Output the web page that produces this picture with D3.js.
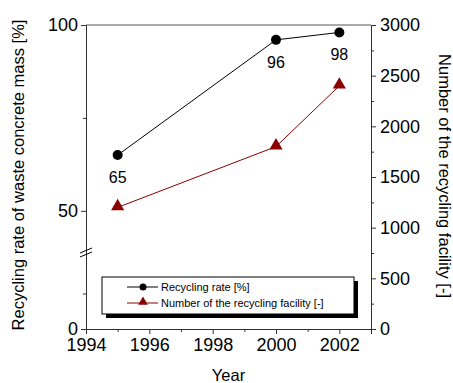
<!DOCTYPE html>
<meta charset="utf-8">
<style>
    body {
        margin: 0;
        font-family: "Liberation Sans", Arial, sans-serif;
        background: #fff;
    }
    .axis path, .axis line {
        stroke: #333;
    }
    .axis text {
        font-size: 18px;
        fill: #000;
        font-family: "Liberation Sans", Arial, sans-serif;
    }
</style>
<script src="https://d3js.org/d3.v7.min.js"></script>
<div id="chart"></div>
<script>

    var years = [1995, 2000, 2002];
    var recyclingRate = [65, 96, 98];
    var facilities = [1200, 1800, 2400];

    var xTicks = [1994, 1996, 1998, 2000, 2002];
    var xMinor = [1995, 1997, 1999, 2001];
    var leftTicks = [0, 50, 100];
    var leftMinor = [10, 75];
    var rightTicks = [0, 500, 1000, 1500, 2000, 2500, 3000];
    var rightMinor = [250, 750, 1250, 1750, 2250, 2750];

    var W = 453, H = 383;
    var plotL = 86, plotR = 371, plotT = 25, plotB = 329;

    var svg = d3.select("#chart")
        .append("svg")
        .attr("width", W)
        .attr("height", H);

    var x = d3.scaleLinear()
        .domain([1994, 2003])
        .range([plotL, plotR]);

    // broken left axis: 0-20 below the break, 40-100 above it
    var yL = d3.scaleLinear()
        .domain([0, 20, 40, 100])
        .range([plotB, 258, 248, plotT]);

    var yR = d3.scaleLinear()
        .domain([0, 3000])
        .range([plotB, plotT]);

    // top frame line
    svg.append("line")
        .attr("x1", plotL).attr("x2", plotR)
        .attr("y1", plotT).attr("y2", plotT)
        .attr("stroke", "#555");

    // x axis
    svg.append("g")
        .attr("class", "axis")
        .attr("transform", "translate(0," + plotB + ")")
        .call(d3.axisBottom(x).tickValues(xTicks).tickFormat(d3.format("d")).tickSizeOuter(0).tickSize(5).tickPadding(4));
    svg.append("g")
        .attr("class", "axis")
        .attr("transform", "translate(0," + plotB + ")")
        .call(d3.axisBottom(x).tickValues(xMinor).tickFormat("").tickSizeOuter(0).tickSize(3))
        .select(".domain").remove();

    // left axis
    svg.append("g")
        .attr("class", "axis")
        .attr("transform", "translate(" + plotL + ",0)")
        .call(d3.axisLeft(yL).tickValues(leftTicks).tickSizeOuter(0).tickSize(5).tickPadding(3));
    svg.append("g")
        .attr("class", "axis")
        .attr("transform", "translate(" + plotL + ",0)")
        .call(d3.axisLeft(yL).tickValues(leftMinor).tickFormat("").tickSize(3))
        .select(".domain").remove();

    // break marks
    [0, 4].forEach(function(o) {
        svg.append("line")
            .attr("x1", plotL - 6).attr("y1", 257 - o)
            .attr("x2", plotL + 6).attr("y2", 252 - o)
            .attr("stroke", "#000");
    });

    // right axis
    svg.append("g")
        .attr("class", "axis")
        .attr("transform", "translate(" + plotR + ",0)")
        .call(d3.axisRight(yR).tickValues(rightTicks).tickFormat(d3.format("d")).tickSizeOuter(0).tickSize(5).tickPadding(4));
    svg.append("g")
        .attr("class", "axis")
        .attr("transform", "translate(" + plotR + ",0)")
        .call(d3.axisRight(yR).tickValues(rightMinor).tickFormat("").tickSize(3))
        .select(".domain").remove();

    // axis titles
    svg.append("text")
        .attr("x", (plotL + plotR) / 2)
        .attr("y", 381)
        .attr("text-anchor", "middle")
        .style("font-size", "16.5px")
        .text("Year");

    svg.append("text")
        .attr("transform", "translate(24," + 175 + ") rotate(-90)")
        .attr("text-anchor", "middle")
        .style("font-size", "16.5px")
        .text("Recycling rate of waste concrete mass [%]");

    svg.append("text")
        .attr("transform", "translate(439," + 176 + ") rotate(90)")
        .attr("text-anchor", "middle")
        .style("font-size", "16.5px")
        .text("Number of the recycling facility [-]");

    var rateData = years.map(function(d, i) { return {year: d, v: recyclingRate[i]}; });
    var facData = years.map(function(d, i) { return {year: d, v: facilities[i]}; });

    // facility series
    svg.append("path")
        .datum(facData)
        .attr("fill", "none")
        .attr("stroke", "#8b0000")
        .attr("stroke-width", 1)
        .attr("d", d3.line().x(function(d) { return x(d.year); }).y(function(d) { return yR(d.v); }));

    var tri = d3.symbol().type(d3.symbolTriangle).size(75);
    svg.selectAll(".tri")
        .data(facData)
        .enter()
        .append("path")
        .attr("class", "tri")
        .attr("d", tri)
        .attr("transform", function(d) { return "translate(" + x(d.year) + "," + (yR(d.v) - 1) + ")"; })
        .attr("fill", "#8b0000");

    // recycling rate series
    svg.append("path")
        .datum(rateData)
        .attr("fill", "none")
        .attr("stroke", "#000")
        .attr("stroke-width", 1)
        .attr("d", d3.line().x(function(d) { return x(d.year); }).y(function(d) { return yL(d.v); }));

    svg.selectAll(".dot")
        .data(rateData)
        .enter()
        .append("circle")
        .attr("cx", function(d) { return x(d.year); })
        .attr("cy", function(d) { return yL(d.v); })
        .attr("r", 5)
        .attr("fill", "#000");

    svg.selectAll(".lbl")
        .data(rateData)
        .enter()
        .append("text")
        .attr("x", function(d) { return x(d.year); })
        .attr("y", function(d) { return yL(d.v) + 28; })
        .attr("text-anchor", "middle")
        .style("font-size", "16px")
        .text(function(d) { return d.v; });

    // legend
    var lx = 102, ly = 277, lw = 252, lh = 37;
    svg.append("rect")
        .attr("x", lx + 4).attr("y", ly + 4)
        .attr("width", lw).attr("height", lh)
        .attr("fill", "#000");
    svg.append("rect")
        .attr("x", lx).attr("y", ly)
        .attr("width", lw).attr("height", lh)
        .attr("fill", "#fff")
        .attr("stroke", "#000");

    var legendItems = [
        {label: "Recycling rate [%]", color: "#000", shape: "circle"},
        {label: "Number of the recycling facility [-]", color: "#8b0000", shape: "tri"}
    ];
    legendItems.forEach(function(d, i) {
        var yy = ly + 10 + i * 16;
        svg.append("line")
            .attr("x1", 127).attr("x2", 158)
            .attr("y1", yy).attr("y2", yy)
            .attr("stroke", d.color);
        if (d.shape === "circle") {
            svg.append("circle").attr("cx", 143).attr("cy", yy).attr("r", 3.5).attr("fill", d.color);
        } else {
            svg.append("path")
                .attr("d", d3.symbol().type(d3.symbolTriangle).size(40))
                .attr("transform", "translate(143," + (yy - 1) + ")")
                .attr("fill", d.color);
        }
        svg.append("text")
            .attr("x", 161)
            .attr("y", yy + 4)
            .style("font-size", "11px")
            .text(d.label);
    });
</script>
